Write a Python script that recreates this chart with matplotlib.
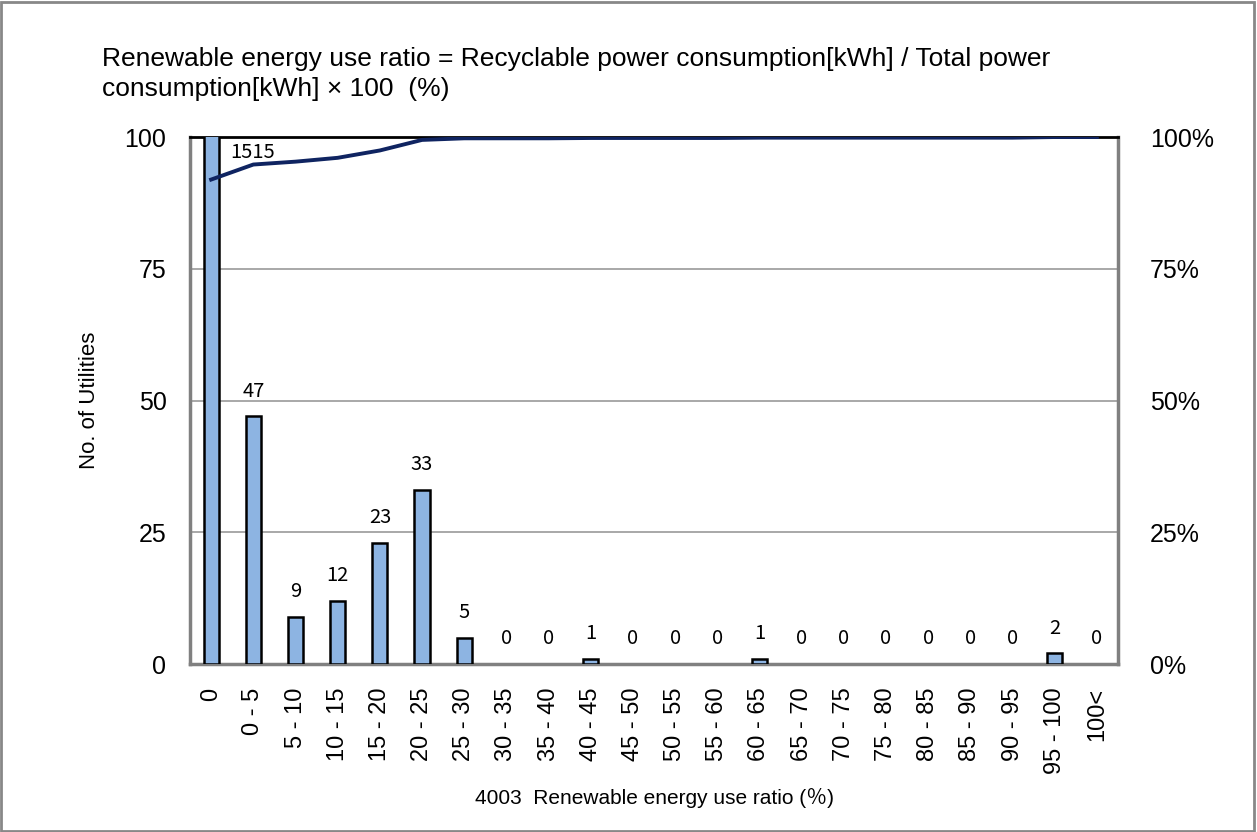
import matplotlib
matplotlib.use("Agg")
import matplotlib.pyplot as plt
import numpy as np
from matplotlib.patches import Rectangle

plt.rcParams['font.family'] = ['Liberation Sans', 'DejaVu Sans']

# données
categories = ['0', '0 - 5', '5 - 10', '10 - 15', '15 - 20', '20 - 25', '25 - 30', '30 - 35',
              '35 - 40', '40 - 45', '45 - 50', '50 - 55', '55 - 60', '60 - 65', '65 - 70',
              '70 - 75', '75 - 80', '80 - 85', '85 - 90', '90 - 95', '95 - 100', '100<']
counts = [1515, 47, 9, 12, 23, 33, 5, 0, 0, 1, 0, 0, 0, 1, 0, 0, 0, 0, 0, 0, 2, 0]

title = "Renewable energy use ratio = Recyclable power consumption[kWh] / Total power\nconsumption[kWh] \u00d7 100  (%)"
xlabel = "4003  Renewable energy use ratio (\uff05)"
ylabel = "No. of Utilities"

cumul = np.cumsum(counts) / sum(counts) * 100  # pourcentage cumulé

fig = plt.figure(figsize=(12.57, 8.32), dpi=100)
fig.patches.append(Rectangle((0.001, 0.001), 0.997, 0.997, transform=fig.transFigure,
                             fill=False, edgecolor='#888888', linewidth=2))

ax = fig.add_axes([0.1512, 0.2019, 0.7382, 0.6334])
x = np.arange(len(categories))
lw = [1.8 if c > 0 else 0 for c in counts]  # pas de contour pour les barres nulles
ax.bar(x, counts, width=0.36, color='#8DB4E2', edgecolor='black', linewidth=lw, zorder=3)
ax.set_xlim(-0.5, len(categories) - 0.5)
ax.set_ylim(0, 100)
ax.set_yticks([0, 25, 50, 75, 100])
ax.yaxis.grid(True, color='#999999', linewidth=1.2, zorder=0)
ax.set_xticks(x)
ax.set_xticklabels(categories, rotation=90, fontsize=17)
ax.tick_params(axis='y', labelsize=18, length=0, pad=17)
ax.tick_params(axis='x', length=0, pad=17)
for s in ['left', 'bottom', 'right']:
    ax.spines[s].set_color('#808080')
    ax.spines[s].set_linewidth(2.5)
ax.spines['top'].set_color('black')
ax.spines['top'].set_linewidth(2)

# étiquettes des barres
for i, c in enumerate(counts):
    if c > 100:
        ax.text(i + 0.99, 97, str(c), ha='center', va='center', fontsize=14.5,
                family=['Noto Sans CJK JP', 'DejaVu Sans'], zorder=5)
    else:
        ax.text(i, c + 2.8, str(c), ha='center', va='bottom', fontsize=14.5,
                family=['Noto Sans CJK JP', 'DejaVu Sans'], zorder=5)

ax.set_ylabel(ylabel, fontsize=16, labelpad=18)
ax.set_xlabel(xlabel, fontsize=15, labelpad=10, family=['Liberation Sans', 'Noto Sans CJK JP'])

ax2 = ax.twinx()
ax2.plot(x, cumul, color='#0F2461', linewidth=2.8, zorder=4)
ax2.set_ylim(0, 100)
ax2.set_yticks([0, 25, 50, 75, 100])
ax2.set_yticklabels(['0%', '25%', '50%', '75%', '100%'])
ax2.tick_params(axis='y', labelsize=18, length=0, pad=23)
for s in ax2.spines.values():
    s.set_visible(False)

fig.text(0.081, 0.911, title, fontsize=19, va='center', ha='left', linespacing=1.35)

fig.savefig("out.png", dpi=100)
